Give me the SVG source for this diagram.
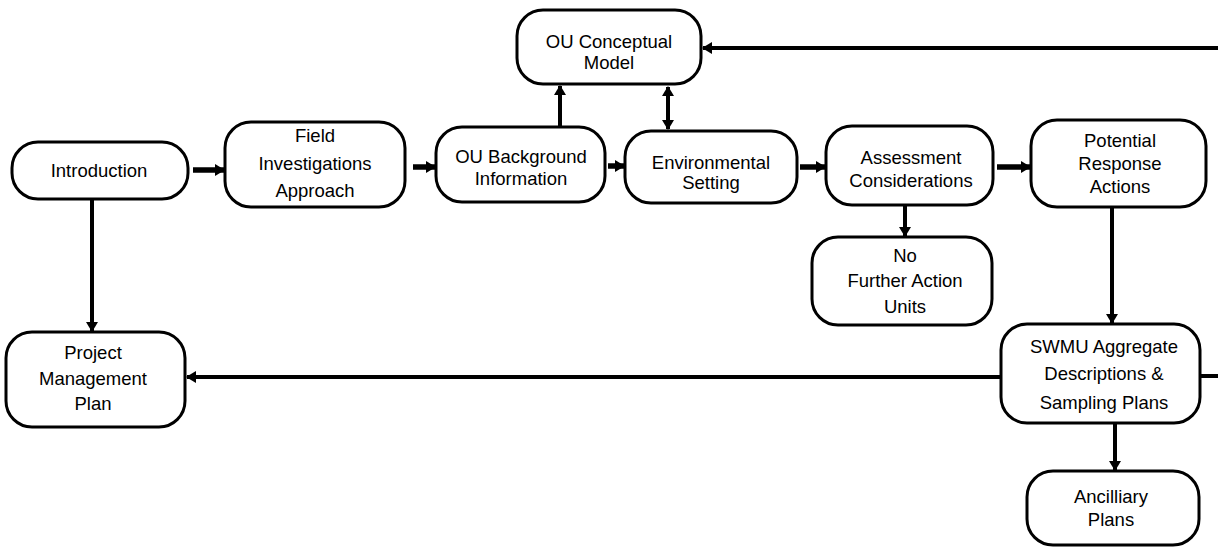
<svg xmlns="http://www.w3.org/2000/svg" width="1218" height="547" viewBox="0 0 1218 547">
  <style>
    .box { fill: #fff; stroke: #000; stroke-width: 3; }
    .lbl { font-family: "Liberation Sans", Arial, sans-serif; font-size: 18.5px; fill: #000; text-anchor: middle; }
    .wire { fill: none; stroke: #000; stroke-width: 4; }
    .stub { fill: none; stroke: #000; stroke-width: 5.5; }
  </style>
  <defs>
    <marker id="head" markerUnits="userSpaceOnUse" markerWidth="10" markerHeight="12" refX="9" refY="6" orient="auto-start-reverse">
      <path d="M0,0 L10,6 L0,12 Z" fill="#000"/>
    </marker>
  </defs>
  <rect width="1218" height="547" fill="#fff"/>

  <!-- connectors -->
  <g id="connectors">
    <line class="stub" x1="193" y1="170" x2="224" y2="170" marker-end="url(#head)"/>
    <line class="stub" x1="413" y1="167" x2="435" y2="167" marker-end="url(#head)"/>
    <line class="stub" x1="608" y1="166" x2="624" y2="166" marker-end="url(#head)"/>
    <line class="stub" x1="800" y1="167" x2="825" y2="167" marker-end="url(#head)"/>
    <line class="stub" x1="997" y1="167" x2="1030" y2="167" marker-end="url(#head)"/>
    <line class="wire" x1="560" y1="127" x2="560" y2="86" marker-end="url(#head)"/>
    <line class="wire" x1="668" y1="87" x2="668" y2="129" marker-start="url(#head)" marker-end="url(#head)"/>
    <line class="wire" x1="1218" y1="48" x2="703" y2="48" marker-end="url(#head)"/>
    <line class="wire" x1="905" y1="205" x2="905" y2="236" marker-end="url(#head)"/>
    <line class="wire" x1="1112" y1="207" x2="1112" y2="323" marker-end="url(#head)"/>
    <line class="wire" x1="92" y1="199" x2="92" y2="331" marker-end="url(#head)"/>
    <line class="wire" x1="1001" y1="377" x2="187" y2="377" marker-end="url(#head)"/>
    <line class="wire" x1="1200" y1="376" x2="1218" y2="376"/>
    <line class="wire" x1="1115" y1="423" x2="1115" y2="470" marker-end="url(#head)"/>
  </g>

  <g id="ou-conceptual-model">
    <rect class="box" x="517" y="10" width="184" height="74" rx="26"/>
    <text class="lbl" x="609" y="48">OU Conceptual</text>
    <text class="lbl" x="609" y="69">Model</text>
  </g>
  <g id="introduction">
    <rect class="box" x="12" y="142" width="176" height="57" rx="26"/>
    <text class="lbl" x="99" y="177">Introduction</text>
  </g>
  <g id="field-investigations">
    <rect class="box" x="225" y="122" width="180" height="85" rx="26"/>
    <text class="lbl" x="315" y="142">Field</text>
    <text class="lbl" x="315" y="170">Investigations</text>
    <text class="lbl" x="315" y="197">Approach</text>
  </g>
  <g id="ou-background">
    <rect class="box" x="436" y="127" width="169" height="75" rx="26"/>
    <text class="lbl" x="521" y="163">OU Background</text>
    <text class="lbl" x="521" y="185">Information</text>
  </g>
  <g id="environmental-setting">
    <rect class="box" x="625" y="131" width="172" height="72" rx="26"/>
    <text class="lbl" x="711" y="169">Environmental</text>
    <text class="lbl" x="711" y="189">Setting</text>
  </g>
  <g id="assessment-considerations">
    <rect class="box" x="826" y="126" width="167" height="79" rx="26"/>
    <text class="lbl" x="911" y="164">Assessment</text>
    <text class="lbl" x="911" y="187">Considerations</text>
  </g>
  <g id="potential-response-actions">
    <rect class="box" x="1031" y="120" width="175" height="87" rx="26"/>
    <text class="lbl" x="1120" y="147">Potential</text>
    <text class="lbl" x="1120" y="170">Response</text>
    <text class="lbl" x="1120" y="193">Actions</text>
  </g>
  <g id="no-further-action">
    <rect class="box" x="812" y="237" width="180" height="88" rx="26"/>
    <text class="lbl" x="905" y="262">No</text>
    <text class="lbl" x="905" y="287">Further Action</text>
    <text class="lbl" x="905" y="313">Units</text>
  </g>
  <g id="project-management-plan">
    <rect class="box" x="6" y="332" width="179" height="95" rx="26"/>
    <text class="lbl" x="93" y="359">Project</text>
    <text class="lbl" x="93" y="385">Management</text>
    <text class="lbl" x="93" y="410">Plan</text>
  </g>
  <g id="swmu-aggregate">
    <rect class="box" x="1001" y="324" width="199" height="99" rx="26"/>
    <text class="lbl" x="1104" y="353">SWMU Aggregate</text>
    <text class="lbl" x="1104" y="380">Descriptions &amp;</text>
    <text class="lbl" x="1104" y="409">Sampling Plans</text>
  </g>
  <g id="ancilliary-plans">
    <rect class="box" x="1027" y="471" width="172" height="74" rx="26"/>
    <text class="lbl" x="1111" y="503">Ancilliary</text>
    <text class="lbl" x="1111" y="526">Plans</text>
  </g>
</svg>
